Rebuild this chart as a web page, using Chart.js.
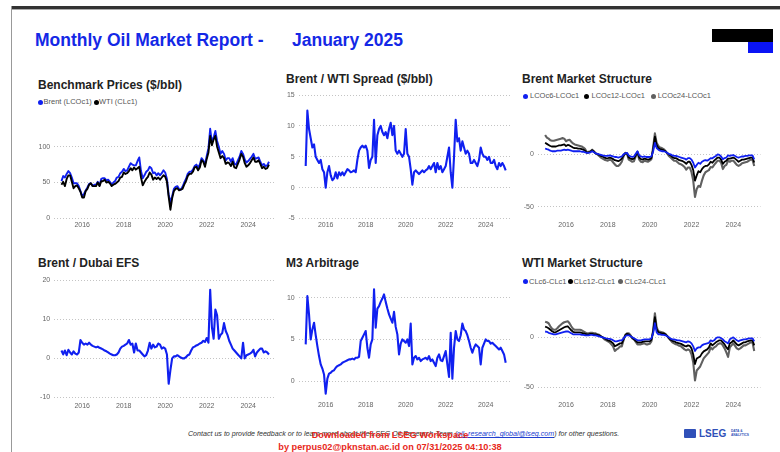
<!DOCTYPE html>
<html>
<head>
<meta charset="utf-8">
<script src="https://cdn.jsdelivr.net/npm/chart.js@4.4.1/dist/chart.umd.min.js"></script>
<style>
html,body{margin:0;padding:0;background:#fff;width:780px;height:452px;overflow:hidden;font-family:"Liberation Sans",Arial,sans-serif;}
.abs{position:absolute;}
.title{position:absolute;font-weight:bold;font-size:12px;line-height:12px;color:#222;white-space:nowrap;}
.lg{position:absolute;font-size:7.5px;line-height:8px;color:#555;white-space:nowrap;}
.dot{position:absolute;width:5px;height:5px;border-radius:50%;}
canvas{position:absolute;}
</style>
</head>
<body>
<div class="abs" style="left:11px;top:6px;width:769px;height:3px;background:#333;"></div>
<div class="abs" style="left:11px;top:9px;width:769px;height:1px;background:#aaa;"></div>
<div class="abs" style="left:11px;top:6px;width:1px;height:446px;background:#999;"></div>

<div class="abs" style="left:35px;top:32px;font-size:17.5px;line-height:17px;font-weight:bold;color:#1428e6;white-space:nowrap;">Monthly Oil Market Report -</div>
<div class="abs" style="left:292px;top:32px;font-size:17.5px;line-height:17px;font-weight:bold;color:#1428e6;white-space:nowrap;">January 2025</div>
<div class="abs" style="left:712px;top:29px;width:61px;height:13px;background:#000;"></div>
<div class="abs" style="left:748px;top:42px;width:25px;height:11px;background:#0a14f5;"></div>

<div class="title" style="left:38px;top:79px;">Benchmark Prices ($/bbl)</div>
<div class="title" style="left:286px;top:73px;">Brent / WTI Spread ($/bbl)</div>
<div class="title" style="left:522px;top:73px;">Brent Market Structure</div>
<div class="title" style="left:38px;top:257px;">Brent / Dubai EFS</div>
<div class="title" style="left:286px;top:257px;">M3 Arbitrage</div>
<div class="title" style="left:522px;top:257px;">WTI Market Structure</div>

<div id="legends"></div>

<canvas id="c1"></canvas>
<canvas id="c2"></canvas>
<canvas id="c3"></canvas>
<canvas id="c4"></canvas>
<canvas id="c5"></canvas>
<canvas id="c6"></canvas>

<div class="abs" style="left:188px;top:430px;font-size:7.1px;line-height:8px;font-style:italic;color:#333;white-space:nowrap;">Contact us to provide feedback or to learn more about the LSEG Oil Research Team (<span style="color:#2040d0;text-decoration:underline;">oil_research_global@lseg.com</span>) for other questions.</div>
<div class="abs" style="left:240px;top:430px;width:300px;text-align:center;font-size:9.2px;line-height:11.5px;font-weight:bold;color:#e8291c;white-space:nowrap;">Downloaded from LSEG Workspace<br>by perpus02@pknstan.ac.id on 07/31/2025 04:10:38</div>
<div class="abs" style="left:684px;top:429px;width:12px;height:9px;background:#3050b8;border-radius:1px;"></div>
<div class="abs" style="left:699px;top:428px;font-size:10px;line-height:11px;font-weight:bold;color:#3050b8;">LSEG</div>
<div class="abs" style="left:731px;top:430px;font-size:3.2px;line-height:3.6px;font-weight:bold;color:#3050b8;">DATA &amp;<br>ANALYTICS</div>

<script>
// ---- data: monthly, Jan 2015 .. Jan 2025 ----
const startYear = 2015;
const yearTicks = [2016, 2018, 2020, 2022, 2024];

const brent = [
 52,59,57,62,66,63,57,49,49,49,45,38,
 31,34,39,43,48,49,45,47,47,51,46,55,
 56,56,53,54,51,47,50,52,57,58,63,65,
 69,66,67,72,77,75,74,74,80,85,66,56,
 60,65,67,72,70,63,64,60,63,60,63,67,
 64,55,33,22,31,41,44,45,41,40,44,50,
 55,62,65,65,68,73,75,71,75,84,81,75,
 87,98,125,106,113,122,108,100,90,94,90,81,
 84,84,79,84,76,75,81,86,94,90,82,78,
 80,83,86,90,83,84,85,79,74,76,73,74,
 79];
const wti = [
 47,51,45,55,60,60,51,42,45,46,42,37,
 29,29,38,41,47,49,45,45,45,50,45,52,
 52,54,50,51,49,45,47,48,50,52,57,58,
 64,62,63,66,70,67,71,68,70,72,57,46,
 51,55,58,64,61,54,57,55,57,54,57,60,
 58,51,30,12,28,38,41,42,39,40,41,47,
 52,59,62,62,65,71,72,67,71,81,79,72,
 83,92,115,102,110,115,100,92,84,87,84,76,
 78,77,73,79,71,70,76,82,90,86,77,72,
 74,77,81,85,79,79,81,76,70,72,69,70,
 75];
const brentWtiSpread = [
 3.5,12.5,9.5,8.0,6.5,7.0,5.0,4.5,4.0,4.5,3.0,2.5,
 0.0,2.5,3.5,2.0,1.2,1.5,2.5,1.5,2.5,2.0,2.5,2.0,
 2.5,3.0,2.8,2.5,2.6,2.8,2.5,4.5,6.0,6.5,6.8,6.5,
 6.8,6.0,3.2,4.5,5.0,11.0,4.0,8.5,9.5,10.0,9.0,8.5,
 9.0,8.0,9.5,10.5,8.5,10.0,6.0,5.5,6.0,5.5,5.0,5.5,
 9.5,5.5,5.0,3.0,0.5,2.5,2.8,2.5,2.2,2.5,2.8,2.5,
 2.8,3.0,3.5,3.0,3.5,4.0,2.5,4.0,3.0,3.5,2.5,3.0,
 3.5,5.0,6.5,2.5,0.0,5.0,11.0,7.5,8.0,6.0,7.5,6.5,
 5.5,6.0,5.5,4.0,4.0,4.5,4.0,3.5,4.5,6.5,5.5,5.0,
 5.0,4.5,5.0,4.0,4.0,4.5,3.5,3.0,4.0,3.5,4.0,3.5,
 2.8];
const lcoC6 = [
 5.6,5.0,4.5,3.5,3.0,3.0,3.0,3.5,3.5,3.5,4.0,4.5,
 4.0,4.5,4.0,3.5,3.0,3.0,3.0,3.0,3.0,2.5,2.5,2.0,
 1.5,1.5,2.0,3.0,2.0,1.0,0.5,0.0,-0.5,-1.0,-1.5,-1.5,
 -1.5,-1.0,-1.5,-2.0,-2.5,-2.5,-3.0,-2.5,-2.0,0.0,1.0,1.5,
 -1.0,-2.0,-2.5,-2.0,0.5,3.0,-1.0,-2.0,-2.5,-2.0,-2.5,-2.5,
 -2.5,-2.0,3.0,11.0,6.0,4.5,3.5,3.0,3.0,2.5,1.5,0.5,
 0.0,-1.0,-1.5,-1.5,-2.0,-2.5,-3.0,-3.5,-4.0,-5.0,-3.5,-3.5,
 -5.0,-8.0,-12.5,-10.0,-8.0,-9.0,-7.0,-6.0,-5.5,-6.0,-5.0,-3.5,
 -3.7,-2.5,-1.5,0.0,-0.5,-2.0,-4.7,-3.5,-3.0,-1.0,-1.5,-1.0,
 -0.6,-1.5,-2.5,-3.0,-2.5,-2.0,-2.0,-1.5,-1.5,-1.0,-1.0,-1.0,
 -4.7];
const lcoC12 = [
 11.0,10.0,9.0,8.0,7.5,7.5,7.5,8.0,8.5,8.5,9.0,9.5,
 8.0,9.0,8.5,7.5,6.5,6.0,6.0,5.5,5.5,5.0,4.5,3.5,
 1.5,2.0,2.5,4.0,2.5,1.0,0.5,-0.5,-1.5,-2.0,-3.0,-3.5,
 -3.7,-3.0,-3.5,-4.5,-5.5,-6.0,-6.5,-5.5,-4.0,-1.0,1.0,1.0,
 -3.0,-4.0,-4.5,-4.0,-1.0,2.5,-3.0,-4.5,-5.0,-4.0,-4.5,-5.0,
 -4.5,-3.5,5.0,17.0,9.0,6.0,5.0,4.5,4.0,3.0,1.5,0.0,
 -1.0,-2.5,-3.5,-3.5,-4.5,-5.5,-6.0,-6.5,-7.5,-9.0,-7.0,-7.0,
 -10.0,-15.0,-25.0,-20.0,-16.0,-17.0,-14.0,-12.0,-11.0,-11.0,-9.5,-7.0,
 -8.0,-6.0,-4.5,-3.0,-3.0,-5.0,-9.0,-7.0,-6.0,-4.0,-4.0,-3.5,
 -3.0,-4.0,-5.5,-7.0,-6.0,-5.0,-5.0,-4.5,-4.0,-3.5,-3.0,-3.0,
 -7.8];
const lcoC24 = [
 18.5,16.0,15.0,13.5,13.0,13.0,13.5,14.0,14.5,15.0,15.5,15.0,
 12.5,13.5,14.0,12.0,10.5,9.5,9.0,8.5,8.0,7.5,6.5,5.0,
 2.0,2.5,3.0,4.5,3.0,1.0,0.0,-1.5,-3.0,-4.0,-5.0,-5.5,
 -6.0,-5.0,-5.5,-7.5,-9.5,-11.0,-11.0,-9.5,-7.0,-2.0,1.5,0.5,
 -5.0,-6.0,-7.0,-6.5,-2.0,2.0,-5.0,-7.0,-7.5,-6.0,-6.5,-7.0,
 -6.0,-4.5,7.0,20.0,11.0,8.0,6.5,6.0,5.0,3.5,1.0,-1.5,
 -3.0,-4.5,-6.0,-6.0,-7.5,-9.0,-9.4,-10.5,-12.0,-14.5,-12.5,-12.5,
 -17.0,-25.0,-40.6,-33.0,-30.0,-31.0,-25.0,-20.0,-17.0,-16.0,-15.0,-12.0,
 -12.5,-10.0,-8.0,-6.0,-6.0,-8.0,-14.0,-11.0,-10.0,-6.0,-7.0,-6.0,
 -6.0,-8.0,-10.0,-11.0,-10.0,-8.5,-8.0,-7.5,-7.0,-6.0,-5.0,-5.0,
 -11.0];
const brentDubaiEfs = [
 2.0,1.0,2.0,0.8,2.2,1.5,1.0,1.8,1.2,1.0,1.5,4.7,
 4.0,3.5,3.8,3.5,4.0,3.5,3.2,3.0,2.8,3.0,2.7,2.5,
 2.3,2.0,1.8,1.5,1.2,1.0,0.8,0.8,1.0,1.5,2.5,3.0,
 3.2,3.5,3.8,4.7,3.5,3.8,1.5,3.8,2.0,2.0,1.5,1.0,
 0.5,0.8,2.0,4.0,2.5,3.5,2.8,3.0,3.8,3.5,2.5,2.8,
 2.5,1.0,-6.5,-3.0,0.0,0.5,0.5,0.8,0.5,0.2,0.0,0.0,
 0.3,0.8,1.0,2.0,2.8,3.0,3.3,3.5,3.8,4.0,4.5,4.2,
 5.2,4.0,17.5,8.0,5.0,12.5,11.0,5.0,6.0,6.5,9.0,7.0,
 6.0,4.5,3.5,2.5,2.0,1.5,1.0,0.5,0.0,4.0,0.0,0.8,
 1.0,1.2,1.5,2.2,0.5,1.5,2.0,2.5,2.5,1.5,1.8,1.5,
 1.0];
const m3Arbitrage = [
 4.4,10.2,8.0,5.0,6.2,7.0,5.5,4.2,3.0,2.0,1.5,0.8,
 -1.5,0.3,0.9,1.0,1.2,1.3,1.6,1.8,1.9,2.0,2.2,2.3,
 2.4,2.5,2.6,2.6,2.7,2.6,2.8,2.8,2.9,4.8,5.2,5.6,
 6.0,4.0,2.8,4.4,5.0,11.0,6.4,8.7,9.0,9.5,9.9,10.4,
 9.5,8.7,8.0,7.5,7.0,8.3,6.5,5.6,3.2,4.5,5.0,4.8,
 4.6,5.0,4.2,6.9,2.0,2.8,3.0,2.6,2.8,2.4,2.6,2.7,
 2.8,2.6,3.0,2.4,2.6,2.2,1.8,2.8,3.2,2.5,2.4,3.0,
 3.6,2.0,0.5,5.8,0.3,4.0,6.0,5.0,4.8,5.5,6.9,6.2,
 6.0,5.5,4.8,4.0,3.4,4.0,4.4,4.2,4.0,2.0,4.0,4.5,
 5.0,4.8,4.8,4.5,4.6,4.4,4.2,4.0,3.8,4.0,3.6,3.2,
 2.2];
const clC6 = [
 5.8,5.5,4.5,4.0,3.5,3.0,3.0,3.5,4.0,4.5,5.0,5.5,
 5.8,6.0,5.0,4.0,3.0,3.0,3.0,3.0,3.0,2.5,2.5,2.0,
 2.0,2.0,2.5,2.5,2.0,2.0,1.5,1.0,0.5,0.0,-0.5,-1.0,
 -1.3,-1.5,-2.0,-3.0,-4.0,-4.0,-3.5,-3.0,-3.0,-1.0,1.0,2.0,
 2.0,1.0,0.0,-1.0,-2.0,-3.0,-3.0,-3.0,-2.5,-2.0,-2.0,-2.0,
 -2.0,-1.0,4.0,14.0,5.0,3.0,3.0,2.5,2.5,2.0,1.0,0.0,
 -1.3,-2.0,-2.0,-2.5,-3.0,-3.0,-3.5,-4.0,-4.5,-5.0,-4.0,-4.5,
 -6.0,-9.0,-13.6,-11.0,-10.0,-10.0,-8.0,-7.0,-6.5,-6.0,-5.5,-3.0,
 -4.0,-3.0,-1.0,0.0,0.0,-1.0,-2.0,-4.0,-5.0,-6.0,-2.0,-1.0,
 0.0,-1.5,-3.0,-4.0,-3.0,-2.5,-2.0,-2.0,-1.5,-1.0,-1.0,-1.0,
 -4.0];
const clC12 = [
 10.7,10.0,9.0,7.5,6.0,5.0,5.0,6.0,7.0,8.0,9.0,10.0,
 10.7,11.0,9.0,7.0,5.5,5.0,5.0,5.0,5.0,4.5,4.0,3.5,
 3.0,3.0,3.5,3.5,3.0,3.0,2.5,2.0,1.0,0.0,-1.0,-2.0,
 -3.0,-3.5,-4.5,-6.0,-8.8,-8.0,-7.0,-6.0,-6.0,-2.0,2.0,3.5,
 3.0,1.5,-0.5,-2.0,-3.5,-5.0,-5.0,-5.0,-4.5,-4.0,-4.0,-4.0,
 -4.0,-2.5,6.0,20.0,8.0,5.0,4.5,4.0,4.0,3.0,1.5,-0.5,
 -2.5,-3.5,-4.0,-5.0,-5.5,-6.0,-6.5,-7.5,-8.5,-9.0,-8.0,-8.5,
 -11.0,-17.0,-26.6,-21.0,-20.0,-19.0,-16.0,-14.0,-13.0,-12.0,-10.0,-6.0,
 -8.0,-6.5,-5.0,-4.0,-3.0,-3.0,-5.0,-7.0,-10.0,-12.0,-6.0,-5.0,
 -3.0,-5.0,-7.0,-8.0,-7.0,-6.0,-5.0,-5.0,-4.0,-3.5,-3.0,-3.0,
 -8.0];
const clC24 = [
 15.6,15.0,14.0,11.0,8.5,7.5,7.5,9.0,11.0,12.5,14.0,15.0,
 15.6,16.0,14.0,11.0,8.5,7.5,7.5,7.5,7.5,7.0,6.0,5.0,
 4.0,4.0,4.5,4.5,4.0,4.0,3.0,2.5,1.0,0.0,-2.0,-3.0,
 -4.0,-5.0,-7.0,-9.0,-13.6,-12.0,-11.0,-9.0,-9.0,-3.0,2.5,4.0,
 4.0,2.0,-1.0,-2.0,-4.5,-7.0,-7.0,-7.0,-6.5,-6.0,-7.0,-7.0,
 -6.5,-4.0,7.0,24.0,10.0,6.0,5.5,5.0,4.5,3.5,1.5,-1.0,
 -3.0,-5.0,-6.0,-7.0,-7.5,-8.5,-9.0,-10.5,-12.0,-13.0,-12.0,-13.0,
 -17.0,-25.0,-43.0,-33.0,-31.0,-29.0,-25.0,-21.0,-19.0,-17.0,-15.0,-10.0,
 -12.0,-10.0,-9.0,-7.0,-6.0,-6.0,-8.0,-11.0,-15.0,-19.5,-10.0,-8.0,
 -6.0,-8.5,-11.0,-12.0,-11.0,-9.5,-8.0,-8.0,-7.0,-6.0,-5.0,-5.0,
 -13.6];

// ---- styling ----
const BLUE = '#1020f0', BLACK = '#000000', GREY = '#606060';
Chart.defaults.font.family = '"Liberation Sans", Arial, sans-serif';

const legendsData = [
  {y:102, items:[[40,43.5,BLUE,'Brent (LCOc1)'],[96,99,BLACK,'WTI (CLc1)']]},
  {y:96, items:[[525.7,530,BLUE,'LCOc6-LCOc1'],[586.7,591.5,BLACK,'LCOc12-LCOc1'],[653.3,657.7,GREY,'LCOc24-LCOc1']]},
  {y:281.7, items:[[525,529,BLUE,'CLc6-CLc1'],[570,573.5,BLACK,'CLc12-CLc1'],[620,624.5,GREY,'CLc24-CLc1']]}
];
const lgRoot = document.getElementById('legends');
legendsData.forEach(l => l.items.forEach(([dx, tx, col, txt]) => {
  const d = document.createElement('div'); d.className = 'dot';
  d.style.left = (dx - 2.5) + 'px'; d.style.top = (l.y - 2.5) + 'px'; d.style.background = col;
  lgRoot.appendChild(d);
  const t = document.createElement('div'); t.className = 'lg';
  t.style.left = tx + 'px'; t.style.top = (l.y - 4) + 'px'; t.textContent = txt;
  lgRoot.appendChild(t);
}));

function series(vals) { return vals.map((v, i) => ({x: startYear + i / 12, y: v})); }

const XMIN = 2014.65, XMAX = 2025.3;
const charts = [
  {id:'c1', L:54.2, R:275.2, T:118.3, B:221.2, ymin:-4, ymax:137, yt:[0,50,100], sets:[[wti,BLACK,1.9],[brent,BLUE,1.9]]},
  {id:'c2', L:298.7, R:511.7, T:91.7, B:220.4, ymin:-5.3, ymax:15.3, yt:[-5,0,5,10,15], sets:[[brentWtiSpread,BLUE,2.1]]},
  {id:'c3', L:537.8, R:760.5, T:127.7, B:220.5, ymin:-63, ymax:24, yt:[-50,0], sets:[[lcoC6,BLUE,1.8],[lcoC12,BLACK,1.8],[lcoC24,GREY,2.1]]},
  {id:'c4', L:54.2, R:275.2, T:274.3, B:401.4, ymin:-11, ymax:21, yt:[-10,0,10,20], sets:[[brentDubaiEfs,BLUE,2.1]]},
  {id:'c5', L:298.7, R:511.7, T:283, B:401.1, ymin:-2.4, ymax:11.5, yt:[0,5,10], sets:[[m3Arbitrage,BLUE,2.1]]},
  {id:'c6', L:537.8, R:760.5, T:308.3, B:400.6, ymin:-63, ymax:27, yt:[-50,0], sets:[[clC6,BLUE,1.8],[clC12,BLACK,1.8],[clC24,GREY,2.1]]}
];

charts.forEach(c => {
  const cv = document.getElementById(c.id);
  const cl = Math.floor(c.L) - 30, ct = Math.floor(c.T) - 6;
  const cw = Math.ceil(c.R) + 3 - cl, ch = Math.ceil(c.B) + 12 - ct;
  const yW = c.L - cl, padTop = c.T - ct, padRight = cl + cw - c.R, xH = ct + ch - c.B;
  cv.style.left = cl + 'px'; cv.style.top = ct + 'px';
  cv.width = cw; cv.height = ch; cv.style.width = cw + 'px'; cv.style.height = ch + 'px';
  new Chart(cv, {
    type: 'line',
    data: {
      datasets: c.sets.map(([vals, col, w]) => ({
        data: series(vals), borderColor: col, backgroundColor: col,
        borderWidth: w, pointRadius: 0, tension: 0, fill: false, borderJoinStyle: 'round'
      }))
    },
    options: {
      responsive: false, animation: false, devicePixelRatio: 1,
      layout: {padding: {top: padTop, right: padRight, left: 0, bottom: 0}},
      plugins: {legend: {display: false}, tooltip: {enabled: false}, title: {display: false}},
      scales: {
        x: {
          type: 'linear', min: XMIN, max: XMAX,
          afterBuildTicks: s => { s.ticks = yearTicks.map(v => ({value: v})); },
          afterFit: s => { s.height = xH; },
          grid: {display: false, drawTicks: false},
          border: {display: false},
          ticks: {padding: 0, color: '#666', font: {size: 7}, maxRotation: 0, autoSkip: false, callback: v => String(v)}
        },
        y: {
          type: 'linear', min: c.ymin, max: c.ymax,
          afterBuildTicks: s => { s.ticks = c.yt.map(v => ({value: v})); },
          afterFit: s => { s.width = yW; },
          grid: {color: '#c4c4c4', lineWidth: 1, drawTicks: false},
          border: {display: false, dash: [1, 2]},
          ticks: {padding: 4, color: '#666', font: {size: 7}, callback: v => String(v)}
        }
      }
    }
  });
});
</script>
</body>
</html>
